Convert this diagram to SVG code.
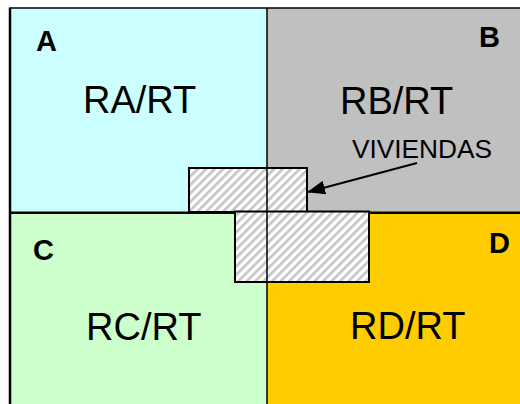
<svg xmlns="http://www.w3.org/2000/svg" width="520" height="404" viewBox="0 0 520 404">
<style>
.lbl{font-family:"Liberation Sans",Arial,sans-serif;font-weight:bold;font-size:29px;fill:#000}
.big{font-family:"Liberation Sans",Arial,sans-serif;font-size:38px;fill:#000}
.small{font-family:"Liberation Sans",Arial,sans-serif;font-size:25.5px;fill:#000}
.hatch{fill:url(#hatch);stroke:#000;stroke-width:2}
.div{stroke:#000;fill:none}
</style>
<defs>
<pattern id="hatch" patternUnits="userSpaceOnUse" width="6" height="6" patternTransform="rotate(45)">
<rect width="6" height="6" fill="#fff"/>
<rect x="0" y="0" width="2.6" height="6" fill="#c4c4c4"/>
</pattern>
<marker id="arr" markerUnits="userSpaceOnUse" markerWidth="18" markerHeight="14" refX="17" refY="7" orient="auto">
<path d="M0,0 L18,7 L0,14 Z" fill="#000"/>
</marker>
</defs>
<rect width="520" height="404" fill="#fff"/>
<g id="A">
<rect x="10" y="8" width="257" height="205" fill="#ccffff"/>
<text class="lbl" x="36" y="51">A</text>
<text class="big" x="83" y="113">RA/RT</text>
</g>
<g id="B">
<rect x="267" y="8" width="253" height="205" fill="#c0c0c0"/>
<text class="lbl" x="479" y="47">B</text>
<text class="big" x="340" y="114">RB/RT</text>
</g>
<g id="C">
<rect x="10" y="213" width="257" height="191" fill="#ccffcc"/>
<text class="lbl" x="33" y="260">C</text>
<text class="big" x="86" y="340">RC/RT</text>
</g>
<g id="D">
<rect x="267" y="213" width="253" height="191" fill="#ffcc00"/>
<text class="lbl" x="489" y="253">D</text>
<text class="big" x="350" y="339">RD/RT</text>
</g>
<g id="borders">
<line class="div" x1="10" y1="8" x2="520" y2="8" stroke-width="1.5"/>
<line class="div" x1="10" y1="7.5" x2="10" y2="404" stroke-width="2.5"/>
<line class="div" x1="10" y1="212.7" x2="520" y2="212.7" stroke-width="2.5"/>
</g>
<g id="viviendas">
<rect class="hatch" x="189" y="168" width="118" height="44"/>
<rect class="hatch" x="235" y="211.5" width="134" height="70.5"/>
<line class="div" x1="267" y1="8" x2="267" y2="404" stroke-width="1.5"/>
<text class="small" x="352" y="158" textLength="140" lengthAdjust="spacingAndGlyphs">VIVIENDAS</text>
</g>
<g id="connectors">
<line x1="417" y1="163" x2="308" y2="192" stroke="#000" stroke-width="2" marker-end="url(#arr)"/>
</g>
</svg>
